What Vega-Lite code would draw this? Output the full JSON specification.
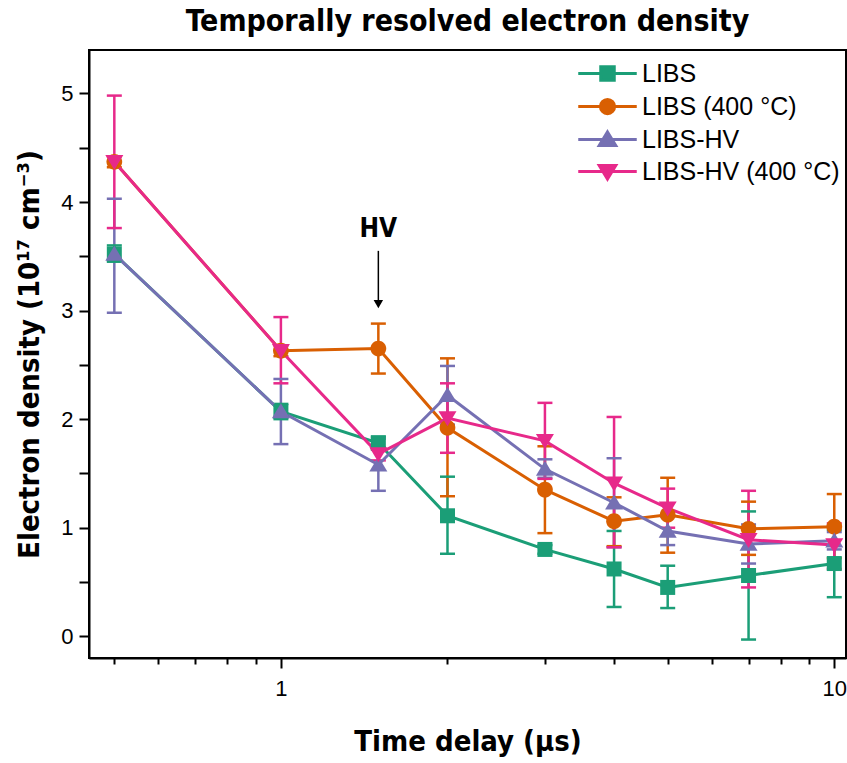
{
  "$schema": "https://vega.github.io/schema/vega-lite/v6.json",
  "width": 757,
  "height": 608,
  "autosize": {"type": "none"},
  "padding": {"left": 89, "top": 50, "right": 1, "bottom": 105},
  "background": "white",
  "title": {
    "text": "Temporally resolved electron density",
    "font": "DejaVu Sans Condensed, Liberation Sans",
    "fontSize": 30,
    "fontWeight": "bold",
    "color": "black",
    "anchor": "middle",
    "offset": 13
  },
  "config": {
    "view": {"stroke": "black", "strokeWidth": 2},
    "axis": {
      "grid": false,
      "domainColor": "black",
      "domainWidth": 2,
      "tickColor": "black",
      "tickWidth": 2,
      "labelColor": "black",
      "labelFont": "Liberation Sans",
      "labelFontSize": 22,
      "titleColor": "black",
      "titleFont": "DejaVu Sans Condensed, Liberation Sans",
      "titleFontSize": 29,
      "titleFontWeight": "bold"
    },
    "legend": {
      "title": null,
      "orient": "none",
      "legendX": 506,
      "legendY": 11,
      "padding": 0,
      "labelFont": "Liberation Sans",
      "labelFontSize": 25,
      "labelColor": "black",
      "labelOffset": 22,
      "labelLimit": 0,
      "rowPadding": 6,
      "symbolSize": 225,
      "symbolStrokeWidth": 3,
      "symbolOpacity": 1
    }
  },
  "resolve": {"scale": {"shape": "independent", "fill": "independent", "stroke": "independent"}},
  "data": {
    "values": [
      {"s": "LIBS", "t": 0.5, "n": 3.52, "lo": 3.45, "hi": 3.6},
      {"s": "LIBS", "t": 1, "n": 2.07, "lo": 2.0, "hi": 2.14},
      {"s": "LIBS", "t": 1.5, "n": 1.78, "lo": 1.72, "hi": 1.84},
      {"s": "LIBS", "t": 2, "n": 1.11, "lo": 0.76, "hi": 1.47},
      {"s": "LIBS", "t": 3, "n": 0.8, "lo": 0.76, "hi": 0.84},
      {"s": "LIBS", "t": 4, "n": 0.62, "lo": 0.27, "hi": 0.97},
      {"s": "LIBS", "t": 5, "n": 0.45, "lo": 0.26, "hi": 0.65},
      {"s": "LIBS", "t": 7, "n": 0.56, "lo": -0.03, "hi": 1.15},
      {"s": "LIBS", "t": 10, "n": 0.67, "lo": 0.36, "hi": 0.98},
      {"s": "LIBS (400 °C)", "t": 0.5, "n": 4.37, "lo": 4.32, "hi": 4.42},
      {"s": "LIBS (400 °C)", "t": 1, "n": 2.63, "lo": 2.58, "hi": 2.68},
      {"s": "LIBS (400 °C)", "t": 1.5, "n": 2.65, "lo": 2.42, "hi": 2.88},
      {"s": "LIBS (400 °C)", "t": 2, "n": 1.92, "lo": 1.29, "hi": 2.56},
      {"s": "LIBS (400 °C)", "t": 3, "n": 1.35, "lo": 0.95, "hi": 1.75},
      {"s": "LIBS (400 °C)", "t": 4, "n": 1.06, "lo": 0.83, "hi": 1.28},
      {"s": "LIBS (400 °C)", "t": 5, "n": 1.12, "lo": 0.77, "hi": 1.46},
      {"s": "LIBS (400 °C)", "t": 7, "n": 0.99, "lo": 0.75, "hi": 1.24},
      {"s": "LIBS (400 °C)", "t": 10, "n": 1.01, "lo": 0.72, "hi": 1.31},
      {"s": "LIBS-HV", "t": 0.5, "n": 3.52, "lo": 2.98, "hi": 4.03},
      {"s": "LIBS-HV", "t": 1, "n": 2.07, "lo": 1.77, "hi": 2.37},
      {"s": "LIBS-HV", "t": 1.5, "n": 1.58, "lo": 1.34, "hi": 1.82},
      {"s": "LIBS-HV", "t": 2, "n": 2.22, "lo": 1.95, "hi": 2.49},
      {"s": "LIBS-HV", "t": 3, "n": 1.54, "lo": 1.46, "hi": 1.63},
      {"s": "LIBS-HV", "t": 4, "n": 1.23, "lo": 0.82, "hi": 1.64},
      {"s": "LIBS-HV", "t": 5, "n": 0.97, "lo": 0.84, "hi": 1.1},
      {"s": "LIBS-HV", "t": 7, "n": 0.85, "lo": 0.67, "hi": 1.03},
      {"s": "LIBS-HV", "t": 10, "n": 0.88, "lo": 0.8, "hi": 0.96},
      {"s": "LIBS-HV (400 °C)", "t": 0.5, "n": 4.37, "lo": 3.76, "hi": 4.98},
      {"s": "LIBS-HV (400 °C)", "t": 1, "n": 2.63, "lo": 2.33, "hi": 2.94},
      {"s": "LIBS-HV (400 °C)", "t": 1.5, "n": 1.68, "lo": 1.62, "hi": 1.74},
      {"s": "LIBS-HV (400 °C)", "t": 2, "n": 2.01, "lo": 1.69, "hi": 2.33},
      {"s": "LIBS-HV (400 °C)", "t": 3, "n": 1.8, "lo": 1.45, "hi": 2.15},
      {"s": "LIBS-HV (400 °C)", "t": 4, "n": 1.41, "lo": 0.82, "hi": 2.02},
      {"s": "LIBS-HV (400 °C)", "t": 5, "n": 1.18, "lo": 1.0, "hi": 1.36},
      {"s": "LIBS-HV (400 °C)", "t": 7, "n": 0.89, "lo": 0.45, "hi": 1.34},
      {"s": "LIBS-HV (400 °C)", "t": 10, "n": 0.84, "lo": 0.62, "hi": 1.04}
    ]
  },
  "encoding": {
    "x": {
      "field": "t",
      "type": "quantitative",
      "scale": {"type": "log", "domain": [0.45, 10.5], "nice": false},
      "axis": {
        "title": "Time delay (μs)",
        "values": [0.5, 0.6, 0.7, 0.8, 0.9, 1, 2, 3, 4, 5, 6, 7, 8, 9, 10],
        "labelExpr": "datum.value == 1 || datum.value == 10 ? datum.value : ''",
        "tickSize": {"condition": {"test": "datum.value == 1 || datum.value == 10", "value": 10}, "value": 6},
        "labelPadding": 10,
        "labelFlush": false,
        "labelOverlap": false,
        "titlePadding": 28
      }
    },
    "y": {
      "field": "n",
      "type": "quantitative",
      "scale": {"domain": [-0.2, 5.4], "nice": false, "zero": false},
      "axis": {
        "title": "Electron density (10¹⁷ cm⁻³)",
        "values": [0, 0.5, 1, 1.5, 2, 2.5, 3, 3.5, 4, 4.5, 5],
        "labelExpr": "datum.value % 1 == 0 ? datum.value : ''",
        "tickSize": 10,
        "labelPadding": 6,
        "labelOverlap": false,
        "titlePadding": 16
      }
    },
    "color": {
      "field": "s",
      "type": "nominal",
      "scale": {
        "domain": ["LIBS", "LIBS (400 °C)", "LIBS-HV", "LIBS-HV (400 °C)"],
        "range": ["#1b9e77", "#d95f02", "#7570b3", "#e7298a"]
      },
      "legend": null
    }
  },
  "layer": [
    {
      "mark": {"type": "rule", "strokeWidth": 2.5},
      "encoding": {"y": {"field": "lo", "type": "quantitative"}, "y2": {"field": "hi"}}
    },
    {
      "mark": {"type": "tick", "orient": "horizontal", "size": 15, "thickness": 2.5, "opacity": 1},
      "encoding": {"y": {"field": "lo", "type": "quantitative"}}
    },
    {
      "mark": {"type": "tick", "orient": "horizontal", "size": 15, "thickness": 2.5, "opacity": 1},
      "encoding": {"y": {"field": "hi", "type": "quantitative"}}
    },
    {
      "mark": {"type": "line", "strokeWidth": 3},
      "encoding": {"detail": {"field": "s"}}
    },
    {
      "mark": {"type": "point", "filled": true, "opacity": 1, "size": 225, "strokeWidth": 0},
      "encoding": {
        "shape": {
          "field": "s",
          "type": "nominal",
          "scale": {
            "domain": ["LIBS", "LIBS (400 °C)", "LIBS-HV", "LIBS-HV (400 °C)"],
            "range": ["M-1,-1H1V1H-1Z", "M-1.05,0A1.05,1.05 0 1,0 1.05,0A1.05,1.05 0 1,0 -1.05,0Z", "M0,-1.1L1.2,0.9L-1.2,0.9Z", "M0,1.1L1.2,-0.9L-1.2,-0.9Z"]
          },
          "legend": null
        }
      }
    },
    {
      "mark": {"type": "point", "opacity": 0, "size": 225},
      "encoding": {
        "color": {"value": "black"},
        "fill": {
          "field": "s",
          "type": "nominal",
          "scale": {
            "domain": ["LIBS", "LIBS (400 °C)", "LIBS-HV", "LIBS-HV (400 °C)"],
            "range": ["#1b9e77", "#d95f02", "#7570b3", "#e7298a"]
          },
          "legend": {"title": null}
        },
        "stroke": {
          "field": "s",
          "type": "nominal",
          "scale": {
            "domain": ["LIBS", "LIBS (400 °C)", "LIBS-HV", "LIBS-HV (400 °C)"],
            "range": ["#1b9e77", "#d95f02", "#7570b3", "#e7298a"]
          },
          "legend": {"title": null}
        },
        "shape": {
          "field": "s",
          "type": "nominal",
          "scale": {
            "domain": ["LIBS", "LIBS (400 °C)", "LIBS-HV", "LIBS-HV (400 °C)"],
            "range": ["M-3.9,0H3.9M-0.9,-0.9H0.9V0.9H-0.9Z", "M-3.9,0H3.9M-0.95,0A0.95,0.95 0 1,0 0.95,0A0.95,0.95 0 1,0 -0.95,0Z", "M-3.9,0H3.9M0,-1L1.1,0.8L-1.1,0.8Z", "M-3.9,0H3.9M0,1L1.1,-0.8L-1.1,-0.8Z"]
          },
          "legend": {"title": null}
        }
      }
    },
    {
      "data": {"values": [{"t": 1.5, "y1": 3.55, "y2": 3.08}]},
      "mark": {"type": "rule", "color": "black", "strokeWidth": 1.5},
      "encoding": {"y": {"field": "y1", "type": "quantitative"}, "y2": {"field": "y2"}, "color": {"value": "black"}}
    },
    {
      "data": {"values": [{"t": 1.5, "y": 3.06}]},
      "mark": {"type": "point", "shape": "triangle-down", "filled": true, "size": 90, "opacity": 1, "color": "black"},
      "encoding": {"y": {"field": "y", "type": "quantitative"}, "color": {"value": "black"}}
    },
    {
      "data": {"values": [{"t": 1.5, "y": 3.75, "label": "HV"}]},
      "mark": {"type": "text", "font": "DejaVu Sans Condensed, Liberation Sans", "fontSize": 26, "fontWeight": "bold", "color": "black", "baseline": "middle"},
      "encoding": {"y": {"field": "y", "type": "quantitative"}, "text": {"field": "label"}, "color": {"value": "black"}}
    }
  ]
}
